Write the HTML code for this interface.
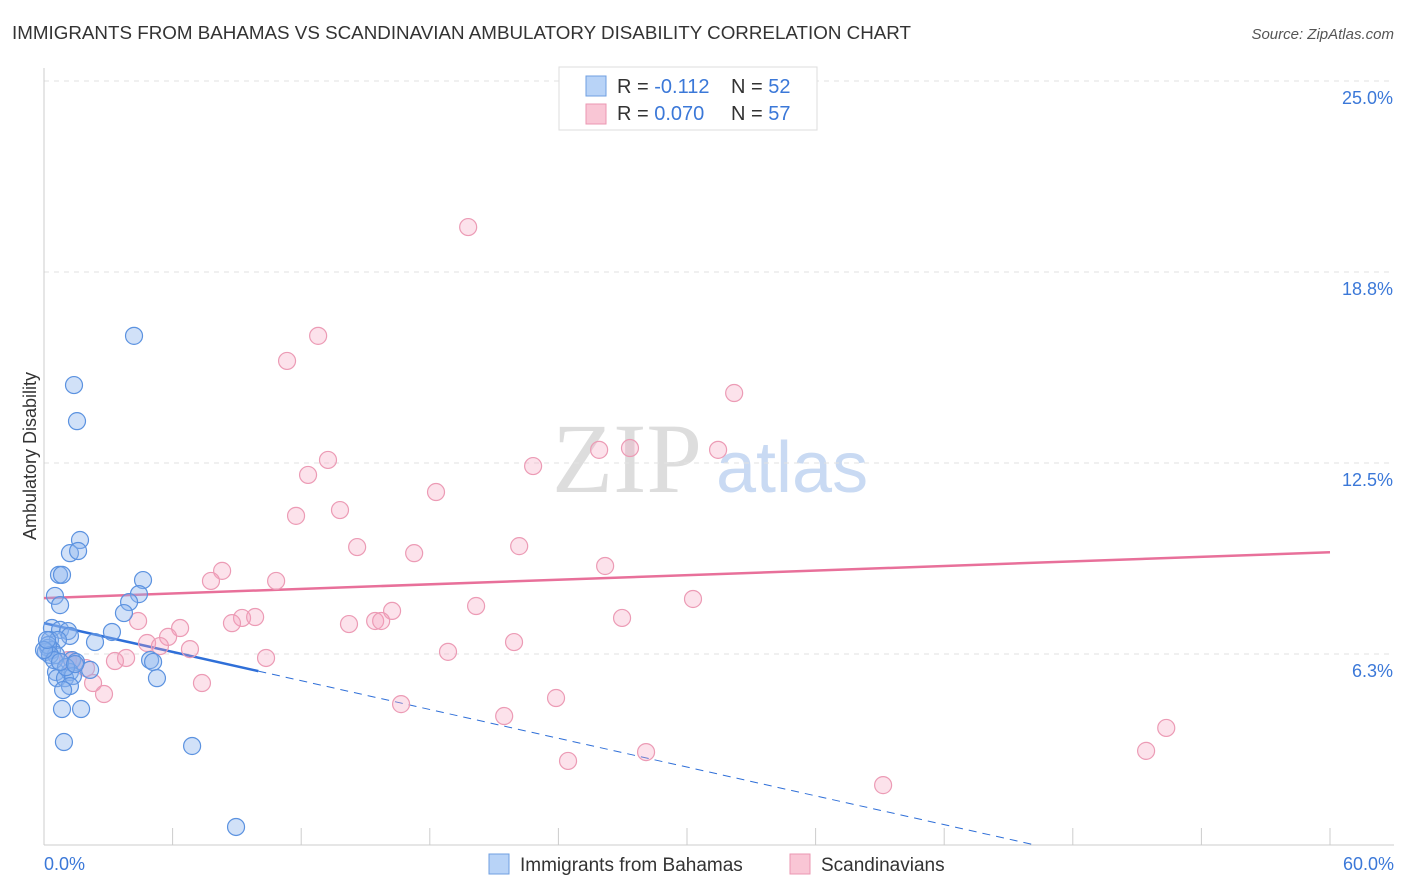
<!DOCTYPE html>
<html><head><meta charset="utf-8"><style>
body{margin:0;background:#fff;font-family:"Liberation Sans",sans-serif}
svg{display:block}
</style></head><body>
<svg id="chart" width="1406" height="892" viewBox="0 0 1406 892">
<text x="12" y="39" font-size="18.5" fill="#333" textLength="899" lengthAdjust="spacingAndGlyphs">IMMIGRANTS FROM BAHAMAS VS SCANDINAVIAN AMBULATORY DISABILITY CORRELATION CHART</text>
<text x="1394" y="39" font-size="15" fill="#555" font-style="italic" text-anchor="end">Source: ZipAtlas.com</text>
<text x="36" y="456" font-size="18" fill="#333" text-anchor="middle" transform="rotate(-90 36 456)">Ambulatory Disability</text>
<g>
<text x="552" y="492" font-size="100" fill="#ddd" font-family="Liberation Serif,serif">ZIP</text>
<text x="716" y="492" font-size="72" fill="#c9daf3">atlas</text>
</g>
<g id="grid"></g><g id="axes"></g><g id="lines"></g><g id="pts"></g>
<g>
<rect x="559" y="67" width="258" height="63" fill="#fff" stroke="#ddd"/>
<rect x="586" y="76" width="20" height="20" fill="#b8d3f7" stroke="#6f9fe0"/>
<rect x="586" y="104" width="20" height="20" fill="#f9c6d5" stroke="#eb97b2"/>
<text x="617" y="93" font-size="20" fill="#333">R = <tspan fill="#3b78d8">-0.112</tspan></text>
<text x="731" y="93" font-size="20" fill="#333">N = <tspan fill="#3b78d8">52</tspan></text>
<text x="617" y="120" font-size="20" fill="#333">R = <tspan fill="#3b78d8">0.070</tspan></text>
<text x="731" y="120" font-size="20" fill="#333">N = <tspan fill="#3b78d8">57</tspan></text>
</g>
<g>
<rect x="489" y="854" width="20" height="20" fill="#b8d3f7" stroke="#6f9fe0"/>
<text x="520" y="871" font-size="19" fill="#333">Immigrants from Bahamas</text>
<rect x="790" y="854" width="20" height="20" fill="#f9c6d5" stroke="#eb97b2"/>
<text x="821" y="871" font-size="19" fill="#333">Scandinavians</text>
</g>
</svg>
<script>
const yTicks=[6.25,12.5,18.75,25];
const yTickLabels=["6.3%","12.5%","18.8%","25.0%"];
const xTickLabels=["0.0%","60.0%"];
const blueX=[4.2,1.4,1.54,1.68,1.21,1.59,0.7,0.84,0.51,0.75,4.62,4.43,3.97,3.73,3.17,2.38,0.37,0.75,1.12,1.21,0.28,0.65,0.19,0.37,0.09,0.56,1.31,1.49,4.95,5.09,2.15,0.56,0.61,1.21,0.98,1.35,5.27,1.21,0.89,0.84,1.73,0.93,6.91,8.96,0.19,0.28,0.47,1.03,0,0.75,1.45,0.14];
const blueY=[16.66,15.05,13.87,9.98,9.55,9.62,8.84,8.84,8.15,7.85,8.67,8.21,7.95,7.59,6.97,6.64,7.1,7.04,7.0,6.84,6.71,6.71,6.45,6.38,6.32,6.22,6.05,5.99,6.05,5.99,5.73,5.66,5.46,5.66,5.46,5.53,5.46,5.2,5.07,4.45,4.45,3.37,3.24,0.59,6.54,6.22,6.05,5.82,6.38,5.99,5.92,6.71];
const pinkX=[19.79,12.79,11.34,32.2,31.45,25.9,27.34,13.25,22.82,12.32,18.29,13.81,11.76,22.17,14.61,17.27,26.18,8.31,7.79,10.83,30.28,20.16,16.24,9.24,9.85,15.45,15.73,8.77,14.23,4.39,26.97,6.35,5.79,4.81,21.93,6.81,5.41,18.85,10.36,3.83,3.31,1.31,1.12,1.45,1.96,2.29,7.37,2.8,23.89,16.66,21.47,52.36,51.42,28.09,24.45,39.15,27.86];
const pinkY=[20.22,16.66,15.84,14.79,12.93,12.93,12.99,12.6,12.4,12.11,11.55,10.96,10.77,9.78,9.75,9.55,9.13,8.97,8.64,8.64,8.05,7.82,7.66,7.43,7.46,7.33,7.33,7.26,7.23,7.33,7.43,7.1,6.81,6.61,6.64,6.41,6.51,6.32,6.12,6.12,6.02,6.05,6.05,5.92,5.79,5.3,5.3,4.94,4.81,4.61,4.22,3.83,3.08,3.04,2.75,1.96,24.71];
const blueTrend=[7.26,-0.157];
const pinkTrend=[8.08,0.025];
const NS="http://www.w3.org/2000/svg";
const X=v=>44+v*(1286/60), Y=v=>845-v*(764/25);
function mk(p,t,a){const e=document.createElementNS(NS,t);for(const k in a)e.setAttribute(k,a[k]);document.getElementById(p).appendChild(e);return e;}
yTicks.forEach((t,i)=>{
 const g=mk('grid','line',{x1:44,x2:1394,y1:Y(t),y2:Y(t),stroke:'#e2e2e2','stroke-dasharray':'5,5'});
 
 
 const l=mk('axes','text',{x:1393,y:Y(t)+23,'font-size':18,fill:'#3b78d8','text-anchor':'end'});
 l.textContent=yTickLabels[i];
 
 
});
let a=mk('axes','line',{x1:44,x2:44,y1:68,y2:845,stroke:'#ccc'});


a=mk('axes','line',{x1:44,x2:1394,y1:845,y2:845,stroke:'#ccc'});


for(let i=0;i<=10;i++){
 const t=mk('axes','line',{x1:X(i*6),x2:X(i*6),y1:828,y2:845,stroke:'#ccc'});
 
 
}
[[0,'start',44],[1,'end',1394]].forEach(([i,an,x])=>{
 const l=mk('axes','text',{x:x,y:870,'font-size':18,fill:'#3b78d8','text-anchor':an});
 l.textContent=xTickLabels[i];
 
 
});
let ln=mk('lines','line',{x1:X(0),y1:Y(pinkTrend[0]),x2:X(60),y2:Y(pinkTrend[0]+pinkTrend[1]*60),stroke:'#e8709a','stroke-width':2.5});


const xs=10, xe=-blueTrend[0]/blueTrend[1];
ln=mk('lines','line',{x1:X(0),y1:Y(blueTrend[0]),x2:X(xs),y2:Y(blueTrend[0]+blueTrend[1]*xs),stroke:'#2f6fd8','stroke-width':2.5});


ln=mk('lines','line',{x1:X(xs),y1:Y(blueTrend[0]+blueTrend[1]*xs),x2:X(xe),y2:Y(0),stroke:'#2f6fd8','stroke-width':1,'stroke-dasharray':'8,6'});


pinkX.forEach((v,i)=>{
 const c=mk('pts','circle',{cx:X(v),cy:Y(pinkY[i]),r:8.5,fill:'rgba(244,160,188,0.3)',stroke:'#ec9bb5','stroke-width':1.2});
 
 
});
blueX.forEach((v,i)=>{
 const c=mk('pts','circle',{cx:X(v),cy:Y(blueY[i]),r:8.5,fill:'rgba(140,180,238,0.4)',stroke:'#5b92e0','stroke-width':1.2});
 
 
});
</script>
</body></html>
